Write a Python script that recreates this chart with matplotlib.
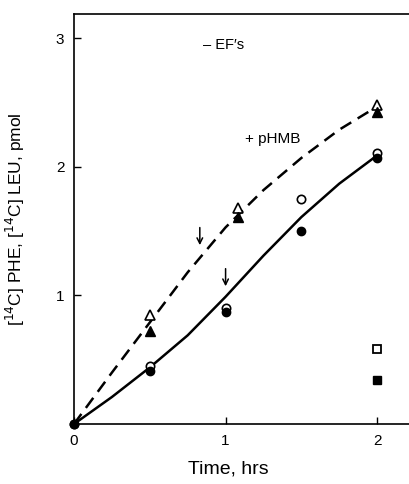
import numpy as np
import matplotlib
matplotlib.use('Agg')
import matplotlib.pyplot as plt

plt.rcParams['font.family'] = ['Liberation Sans', 'DejaVu Sans']

# measured points
t_circ = [0, 0.5, 1.0, 1.5, 2.0]
open_circ = [0, 0.45, 0.90, 1.75, 2.11]
fill_circ = [0, 0.41, 0.87, 1.50, 2.07]
t_tri = [0.5, 1.08, 2.0]
open_tri = [0.85, 1.68, 2.48]
fill_tri = [0.72, 1.61, 2.43]
t_sq = [2.0]
open_sq = [0.58]
fill_sq = [0.34]

# hand-drawn curves
t_curve = [0, 0.25, 0.5, 0.75, 1.0, 1.25, 1.5, 1.75, 2.0]
solid_curve = [0, 0.21, 0.44, 0.69, 0.99, 1.31, 1.61, 1.87, 2.09]
dashed_curve = [0, 0.40, 0.79, 1.18, 1.53, 1.82, 2.07, 2.29, 2.47]

fig = plt.figure(figsize=(4.09, 4.84), dpi=100)
ax = fig.add_axes([74/409, 60/484, 335/409, 410/484])

ax.plot(t_curve, solid_curve, color='black', lw=1.8, solid_capstyle='butt')
ax.plot(t_curve, dashed_curve, color='black', lw=1.8, linestyle=(0, (5, 3)))

# open markers under, filled markers on top
ax.plot(t_circ, open_circ, 'o', mfc='white', mec='black', mew=1.2, ms=6,
        clip_on=False, zorder=3)
ax.plot(t_circ, fill_circ, 'o', color='black', ms=6, clip_on=False, zorder=4)
ax.plot(t_tri, open_tri, '^', mfc='white', mec='black', mew=1.2, ms=7, zorder=3)
ax.plot(t_tri, fill_tri, '^', color='black', ms=7, zorder=4)
ax.plot(t_sq, open_sq, 's', mfc='white', mec='black', mew=1.3, ms=6)
ax.plot(t_sq, fill_sq, 's', color='black', ms=6)

# arrows
ax.annotate('', xy=(0.83, 1.37), xytext=(0.83, 1.55),
            arrowprops=dict(arrowstyle='->', lw=1.1, color='black'))
ax.annotate('', xy=(1.0, 1.05), xytext=(1.0, 1.23),
            arrowprops=dict(arrowstyle='->', lw=1.1, color='black'))

ax.text(0.85, 2.95, '\u2013 EF\u2032s', fontsize=10.5, ha='left', va='center')
ax.text(1.13, 2.22, '+ pHMB', fontsize=11, ha='left', va='center')

ax.set_xlim(0, 2.21)
ax.set_ylim(0, 3.19)
ax.set_xticks([0, 1, 2])
ax.set_yticks([1, 2, 3])
ax.tick_params(direction='in', length=5, width=1, labelsize=11, pad=7)
ax.spines['right'].set_visible(False)
for s in ['left', 'bottom', 'top']:
    ax.spines[s].set_linewidth(1.2)

ax.set_xlabel('Time, hrs', fontsize=14)
ax.xaxis.set_label_coords(0.46, -0.09)
ax.set_ylabel(r'[$^{14}$C] PHE, [$^{14}$C] LEU, pmol', fontsize=12.5)
ax.yaxis.set_label_coords(-0.14, 0.5)

fig.savefig('out.png', dpi=100)
